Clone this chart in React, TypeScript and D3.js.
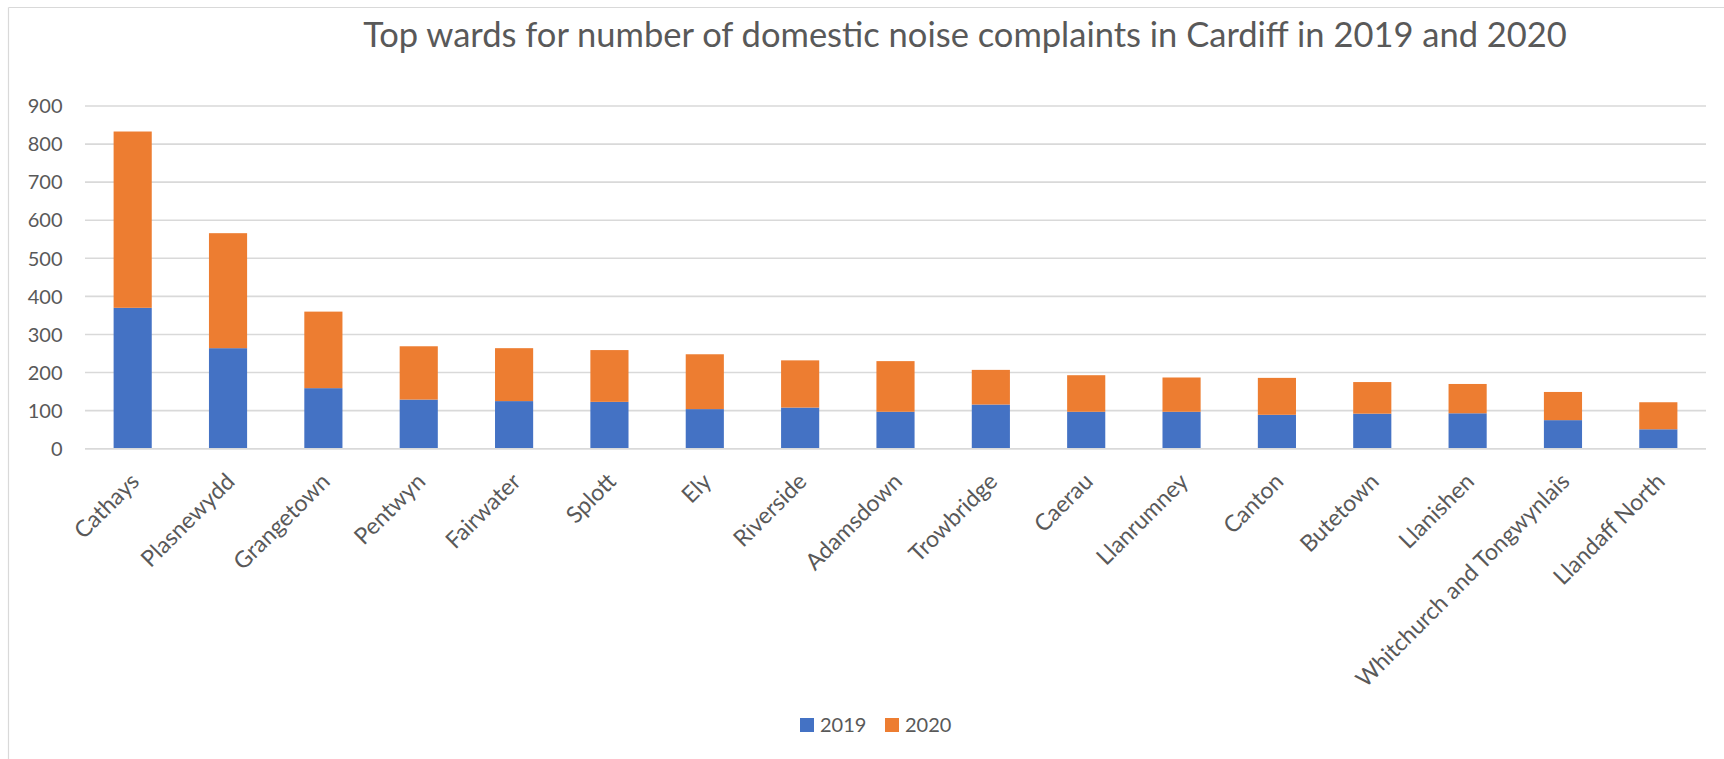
import React from "react";
import * as d3 from "d3";

const categories = [
  "Cathays",
  "Plasnewydd",
  "Grangetown",
  "Pentwyn",
  "Fairwater",
  "Splott",
  "Ely",
  "Riverside",
  "Adamsdown",
  "Trowbridge",
  "Caerau",
  "Llanrumney",
  "Canton",
  "Butetown",
  "Llanishen",
  "Whitchurch and Tongwynlais",
  "Llandaff North",
];
const values2019 = [370, 264, 159, 129, 125, 123, 104, 108, 97, 116, 97, 97, 89, 92, 93, 75, 51];
const values2020 = [463, 302, 201, 140, 139, 136, 144, 124, 133, 91, 96, 90, 97, 83, 77, 74, 71];
const seriesNames = ["2019", "2020"];
const yTicks = [0, 100, 200, 300, 400, 500, 600, 700, 800, 900];
const title = "Top wards for number of domestic noise complaints in Cardiff in 2019 and 2020";

const W = 1724;
const H = 759;
const COLORS = ["#4472C4", "#ED7D31"];
const TEXT = "#595959";
const GRID = "#D9D9D9";
const FONT = "Lato, 'Open Sans', sans-serif";

export default function App() {
  const x = d3
    .scaleBand<string>()
    .domain(categories)
    .range([85, 1706])
    .paddingInner(0.6)
    .paddingOuter(0.3);
  const y = d3.scaleLinear().domain([0, 900]).range([448.7, 106]);

  const rows = categories.map((c, i) => ({ cat: c, s2019: values2019[i], s2020: values2020[i] }));
  const stack = d3.stack<any>().keys(["s2019", "s2020"])(rows);

  return (
    <svg
      width={W}
      height={H}
      style={{ position: "absolute", left: 0, top: 0, background: "#fff" }}
      fontFamily={FONT}
    >
      <rect x={0} y={0} width={W} height={H} fill="#fff" />
      {/* frame */}
      <line x1={8.5} y1={7.5} x2={W} y2={7.5} stroke={GRID} strokeWidth={1.2} />
      <line x1={8.5} y1={7.5} x2={8.5} y2={H} stroke={GRID} strokeWidth={1.2} />

      <text x={965} y={46.5} textAnchor="middle" fontSize={34.5} fill={TEXT}>
        {title}
      </text>

      {/* gridlines */}
      {yTicks.map((t) => (
        <g key={t}>
          <line x1={85} x2={1706} y1={y(t)} y2={y(t)} stroke={GRID} strokeWidth={1.6} />
          <text x={62.5} y={y(t)} dy="0.36em" textAnchor="end" fontSize={20} fill={TEXT}>
            {t}
          </text>
        </g>
      ))}

      {/* bars */}
      {stack.map((layer, si) => (
        <g key={si} fill={COLORS[si]}>
          {layer.map((d, i) => (
            <rect
              key={i}
              x={x(categories[i])}
              width={x.bandwidth()}
              y={y(d[1])}
              height={y(d[0]) - y(d[1])}
            />
          ))}
        </g>
      ))}
      <line x1={85} x2={1706} y1={y(0)} y2={y(0)} stroke={GRID} strokeWidth={1.6} />

      {/* category labels */}
      {categories.map((c) => {
        const cx = (x(c) as number) + x.bandwidth() / 2 + 8;
        const cy = 483;
        return (
          <text
            key={c}
            x={cx}
            y={cy}
            textAnchor="end"
            fontSize={23}
            fill={TEXT}
            transform={`rotate(-45 ${cx} ${cy})`}
          >
            {c}
          </text>
        );
      })}

      {/* legend */}
      {seriesNames.map((s, i) => {
        const lx = i === 0 ? 800 : 885;
        return (
          <g key={s}>
            <rect x={lx} y={718} width={14} height={14} fill={COLORS[i]} />
            <text x={lx + 20} y={725} dy="0.36em" fontSize={20} fill={TEXT}>
              {s}
            </text>
          </g>
        );
      })}
    </svg>
  );
}
